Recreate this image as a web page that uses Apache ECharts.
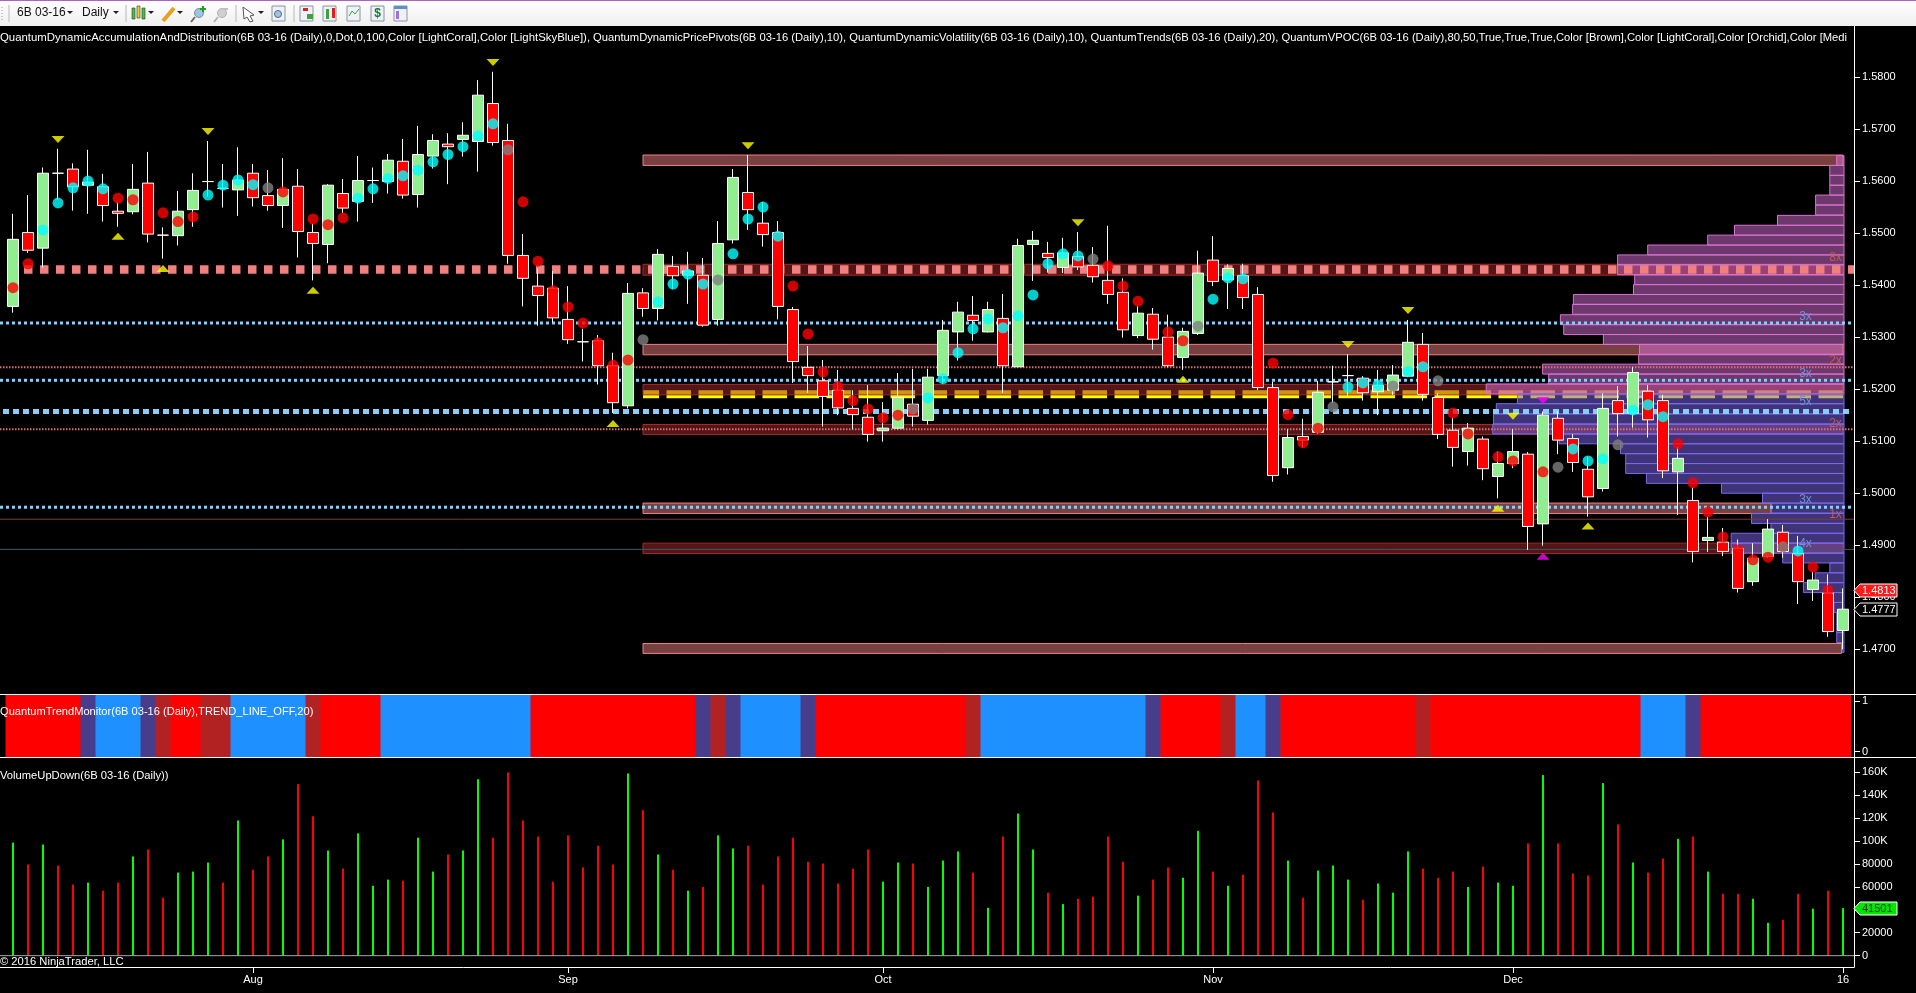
<!DOCTYPE html>
<html>
<head>
<meta charset="utf-8">
<title>6B 03-16 Daily</title>
<style>
  html, body { margin: 0; padding: 0; background: #000; }
  #chart { width: 1916px; height: 993px; }
</style>
<script src="https://cdn.jsdelivr.net/npm/echarts@6/dist/echarts.min.js"></script>
</head>
<body>
<div id="chart"></div>
<script>
// open, close, low, high per daily bar
const candles = [
  [1.5359,1.5488,1.5347,1.5537],[1.5501,1.5467,1.5462,1.5573],[1.5471,1.5615,1.5434,1.5626],[1.5615,1.5615,1.5564,1.5662],
  [1.5623,1.5589,1.5543,1.5634],[1.5592,1.5598,1.5537,1.5660],[1.5589,1.5553,1.5522,1.5614],[1.5542,1.5538,1.5512,1.5560],
  [1.5541,1.5584,1.5536,1.5633],[1.5596,1.5498,1.5482,1.5656],[1.5496,1.5496,1.5451,1.5511],[1.5495,1.5542,1.5476,1.5581],
  [1.5545,1.5582,1.5512,1.5615],[1.5599,1.5599,1.5570,1.5677],[1.5586,1.5586,1.5549,1.5633],[1.5583,1.5602,1.5533,1.5665],
  [1.5615,1.5568,1.5551,1.5633],[1.5572,1.5553,1.5543,1.5621],[1.5553,1.5584,1.5510,1.5644],[1.5590,1.5503,1.5453,1.5623],
  [1.5501,1.5480,1.5409,1.5518],[1.5478,1.5592,1.5442,1.5594],[1.5576,1.5548,1.5538,1.5604],[1.5561,1.5601,1.5522,1.5648],
  [1.5601,1.5601,1.5558,1.5626],[1.5599,1.5640,1.5576,1.5652],[1.5638,1.5573,1.5566,1.5681],[1.5574,1.5651,1.5549,1.5706],
  [1.5648,1.5678,1.5624,1.5690],[1.5671,1.5666,1.5594,1.5692],[1.5680,1.5688,1.5647,1.5713],[1.5676,1.5765,1.5618,1.5794],
  [1.5749,1.5674,1.5668,1.5810],[1.5678,1.5457,1.5441,1.5710],[1.5457,1.5413,1.5359,1.5498],[1.5398,1.5380,1.5322,1.5432],
  [1.5394,1.5337,1.5328,1.5427],[1.5334,1.5295,1.5287,1.5398],[1.5291,1.5291,1.5253,1.5316],[1.5293,1.5245,1.5209,1.5304],
  [1.5245,1.5174,1.5154,1.5270],[1.5168,1.5384,1.5163,1.5404],[1.5385,1.5355,1.5339,1.5394],[1.5355,1.5459,1.5332,1.5469],
  [1.5436,1.5418,1.5392,1.5456],[1.5419,1.5427,1.5364,1.5464],[1.5419,1.5323,1.5320,1.5452],[1.5334,1.5480,1.5322,1.5523],
  [1.5487,1.5607,1.5480,1.5623],[1.5578,1.5545,1.5506,1.5650],[1.5519,1.5497,1.5474,1.5560],[1.5501,1.5359,1.5334,1.5523],
  [1.5353,1.5253,1.5212,1.5358],[1.5242,1.5226,1.5193,1.5283],[1.5216,1.5186,1.5128,1.5256],[1.5198,1.5164,1.5150,1.5237],
  [1.5163,1.5151,1.5123,1.5198],[1.5146,1.5113,1.5099,1.5208],[1.5120,1.5125,1.5099,1.5175],[1.5125,1.5184,1.5123,1.5231],
  [1.5171,1.5148,1.5128,1.5239],[1.5140,1.5223,1.5132,1.5239],[1.5226,1.5313,1.5211,1.5333],[1.5310,1.5348,1.5255,1.5368],
  [1.5342,1.5332,1.5293,1.5379],[1.5310,1.5353,1.5309,1.5368],[1.5336,1.5245,1.5193,1.5383],[1.5243,1.5476,1.5242,1.5489],
  [1.5478,1.5486,1.5408,1.5504],[1.5461,1.5453,1.5424,1.5483],[1.5434,1.5462,1.5423,1.5491],[1.5455,1.5435,1.5429,1.5502],
  [1.5438,1.5416,1.5405,1.5473],[1.5409,1.5382,1.5364,1.5514],[1.5386,1.5314,1.5299,1.5413],[1.5303,1.5346,1.5298,1.5360],
  [1.5344,1.5296,1.5276,1.5356],[1.5300,1.5245,1.5242,1.5343],[1.5261,1.5311,1.5237,1.5318],[1.5307,1.5423,1.5304,1.5466],
  [1.5448,1.5407,1.5398,1.5494],[1.5410,1.5432,1.5354,1.5440],[1.5418,1.5376,1.5354,1.5441],[1.5382,1.5203,1.5198,1.5396],
  [1.5203,1.5034,1.5022,1.5214],[1.5049,1.5107,1.5036,1.5123],[1.5109,1.5102,1.5088,1.5143],[1.5117,1.5194,1.5114,1.5216],
  [1.5214,1.5214,1.5173,1.5245],[1.5226,1.5226,1.5184,1.5267],[1.5221,1.5193,1.5178,1.5225],[1.5195,1.5207,1.5150,1.5237],
  [1.5198,1.5227,1.5189,1.5246],[1.5225,1.5290,1.5223,1.5333],[1.5286,1.5190,1.5178,1.5308],[1.5184,1.5113,1.5104,1.5192],
  [1.5121,1.5088,1.5051,1.5145],[1.5080,1.5125,1.5053,1.5135],[1.5104,1.5047,1.5025,1.5109],[1.5032,1.5057,1.4990,1.5080],
  [1.5057,1.5080,1.5048,1.5123],[1.5075,1.4936,1.4891,1.5079],[1.4941,1.5150,1.4899,1.5157],[1.5144,1.5102,1.5075,1.5157],
  [1.5105,1.5059,1.5041,1.5114],[1.5046,1.4993,1.4955,1.5070],[1.5009,1.5163,1.5003,1.5192],[1.5178,1.5153,1.5109,1.5206],
  [1.5154,1.5232,1.5126,1.5242],[1.5196,1.5141,1.5107,1.5208],[1.5178,1.5043,1.5029,1.5189],[1.5041,1.5067,1.4958,1.5089],
  [1.4986,1.4888,1.4867,1.5011],[1.4909,1.4915,1.4887,1.4955],[1.4906,1.4888,1.4879,1.4933],[1.4894,1.4817,1.4809,1.4911],
  [1.4830,1.4875,1.4822,1.4904],[1.4878,1.4931,1.4875,1.4950],[1.4925,1.4888,1.4876,1.4939],[1.4884,1.4830,1.4787,1.4918],
  [1.4815,1.4833,1.4793,1.4849],[1.4808,1.4734,1.4724,1.4844],[1.4736,1.4777,1.4700,1.4817]
]

// pivot dots, one per bar where shown. r=red c=cyan g=grey
const dotPrices = [
  1.5395,1.5441,1.5506,1.5558,1.5587,1.5600,1.5585,1.5567,1.5564,null,1.5539,1.5522,1.5531,1.5573,1.5592,1.5602,
  1.5593,1.5587,1.5579,null,1.5527,1.5516,1.5529,1.5567,1.5585,1.5605,1.5610,1.5621,1.5637,1.5651,1.5666,1.5687,
  1.5710,1.5660,1.5560,1.5446,1.5389,1.5358,1.5327,1.5289,1.5246,1.5256,1.5295,1.5368,1.5402,1.5421,1.5402,1.5410,
  1.5460,1.5527,1.5550,1.5494,1.5398,1.5306,1.5233,1.5205,1.5178,1.5162,1.5145,1.5150,1.5162,1.5183,1.5220,1.5270,
  1.5316,1.5335,1.5318,1.5341,1.5381,1.5441,1.5460,1.5456,1.5450,1.5437,1.5398,1.5369,null,1.5310,1.5293,1.5321,
  1.5373,1.5414,1.5412,null,1.5250,1.5151,1.5097,1.5125,1.5166,1.5204,1.5212,1.5208,1.5206,1.5234,1.5243,1.5216,
  1.5154,1.5114,null,1.5070,1.5062,null,1.5041,1.5050,1.5085,1.5062,1.5066,1.5093,1.5160,1.5170,1.5147,1.5095,
  1.5020,1.4964,1.4916,1.4891,1.4872,1.4877,1.4897,1.4889,1.4858,1.4814,null
]
const dotKinds = ('rrcccccrr-' + 'rrrccccgr-' + 'rrrccccccc' + 'cccgrrrrrr' + 'rrgccccgcc' + 'ccrrrrrrrr' +
  'gccccccccc' + 'ccgrrr-rrg' + 'ccc-rrrrgc' + 'ccgccgrr-r' + 'r-rgcccgcc' + 'crrrrrrrgcrr-').split('')

// pivot triangles [bar, price]
const pivotDown = [[3,1.5680],[13,1.5695],[32,1.5828],[49,1.5668],[71,1.5520],[89,1.5286],[93,1.5351],[100,1.5148]]
const pivotUp = [[7,1.5494],[10,1.5432],[20,1.5390],[40,1.5134],[78,1.5219],[99,1.4971],[105,1.4937]]
const majorDown = [[102,1.5178]]
const majorUp = [[102,1.4879]]

// supply and demand zones [low, high, first bar, last bar]
const coralZones = [[1.5630,1.5650,42,122],[1.5266,1.5286,42,122],[1.4961,1.4981,42,117.2],[1.4692,1.4711,42,121.9]]
const brownZones = [[1.5419,1.5440,42,122],[1.5189,1.5209,42,122],[1.5113,1.5132,42,122],[1.4884,1.4904,42,122]]
const pocLevel = 1.5190

// accumulation and distribution levels
const coralBigLevels = [1.5430]
const skyLevels = [1.5327,1.5217,1.4973]
const skyBigLevels = [1.5157]
const coralThinLevels = [1.5242,1.5123]
const plainLevels = [[1.4950,'#7a3c3c'],[1.4892,'#3e5a68']]

// multiplier texts at the level ends [text, bar, price, coral?]
const multipliers = [
  ['8x',121.5,1.5453,1],['2x',121.5,1.5254,1],['3x',119.5,1.5340,0],['3x',119.5,1.5230,0],['5x',119.5,1.5175,0],
  ['2x',121.5,1.5134,1],['3x',119.5,1.4988,0],['1x',121.5,1.4958,1],['4x',119.5,1.4902,0]
]

// volume at price, top of each row
const vpocPrices = [
  1.5649,1.5630,1.5611,1.5592,1.5573,1.5554,1.5534,1.5515,1.5496,1.5477,1.5458,1.5439,1.5420,1.5401,1.5382,1.5363,1.5343,
  1.5324,1.5305,1.5286,1.5267,1.5248,1.5229,1.5210,1.5191,1.5172,1.5152,1.5133,1.5114,1.5095,1.5076,1.5057,1.5038,1.5019,
  1.5000,1.4981,1.4961,1.4942,1.4923,1.4904,1.4885,1.4866,1.4847,1.4828,1.4809,1.4790,1.4770,1.4751,1.4732,1.4713
]
const vpocVolumes = [
  7.3,14.2,14.2,14.2,28.4,28.4,66.5,109.5,136.3,196.3,226.4,226.4,209.3,210.5,270.6,271.4,283.6,
  280.3,240.6,204.5,205.3,301.4,295.3,357.8,326.6,347.7,350.5,351.3,284.8,223.5,218.3,218.3,197.6,122.5,
  81.5,72.6,92.5,73,112.8,112.8,61.3,14.2,28.8,40.6,20.3,10.1,7.3,7.3,7.3,2
]
const vpocRowSize = 0.00191
const vpocOrchidRows = 24

// trend monitor per bar. R=red B=dodger S=slate F=firebrick
const trendStates = 'RRRRRSBBBSFRRFFBBBBBFRRRRBBBBBBBBBBRRRRRRRRRRRSFSBBBBSRRRRRRRRRRFBBBBBBBBBBBSRRRRFBBSRRRRRRRRRFRRRRRRRRRRRRRRBBBSRRRRRRRRRR'.split('')

const volumes = [
  98600,79600,97000,78700,62000,63800,56700,63800,86600,92700,50600,72500,73400,81300,63800,118000,
  75000,86600,101500,149700,121700,91800,76000,106800,61000,66400,65500,103000,73400,88300,91800,154000,
  103000,160000,118000,104000,64600,105000,77000,96000,79600,159000,127000,88300,75000,56700,60000,105000,
  93600,96000,62000,86600,103000,82000,80400,63000,76000,92700,64600,81300,80400,60000,83000,91000,
  72500,41800,104000,124000,92700,55000,45000,49700,51500,104000,82000,52400,66400,77000,68000,109000,
  73400,61000,70800,153000,125000,83000,50600,74300,78700,66400,48800,63000,55000,91000,76000,68000,
  73400,60000,77800,63800,61000,98000,157600,98000,71700,70000,150600,114600,81300,72500,84800,102000,
  104000,73400,54000,54000,49700,28700,31300,54000,41000,56700,41501
]
const volumeDirs = ('grgrrgrrgr' + 'rgggrgrrgr' + 'rgrgggrggr' + 'ggrrrrrrrr' + 'rgrgrgrggr' + 'rrrrrrrrgg' + 'rggg' +
  'rgrggrgrrr' + 'rgrrggrgrr' + 'rgrgggrggg' + 'rrrgrggrgr' + 'rrgrgrrgrg' + 'rrggrrgrg').split('')

const priceTicks = [1.47,1.48,1.49,1.50,1.51,1.52,1.53,1.54,1.55,1.56,1.57,1.58]
const trendTicks = [0,1]
const volumeTicks = [0,20000,40000,60000,80000,100000,120000,140000,160000]
const monthTicks = [16,37,58,80,100,122]
const monthLabels = ['Aug','Sep','Oct','Nov','Dec','16']
const lastPrices = [[1.4813,'1.4813','#ff1a1a','#fff'],[1.4777,'1.4777','#000','#fff']]
const lastVolume = [[41501,'41501','#00e600','#003300']]

const titleFirst = 'QuantumDynamicAccumulationAndDistribution(6B 03-16 (Daily),0,Dot,0,100,Color [LightCoral],Color [LightSkyBlue]),'
const titleRest = 'QuantumDynamicPricePivots(6B 03-16 (Daily),10), QuantumDynamicVolatility(6B 03-16 (Daily),10), QuantumTrends(6B 03-16 (Daily),20), QuantumVPOC(6B 03-16 (Daily),80,50,True,True,True,Color [Brown],Color [LightCoral],Color [Orchid],Color [MediumSlateBlue])'

const FONT = '"Liberation Sans", Arial, sans-serif'
const AXIS_X = 1854
const xMin = -0.8667
const xMax = 122.733
const dotColors = {r:'#ff0000',c:'#00ffff',g:'#808080'}
const trendColors = {R:'#ff0000',B:'#1e90ff',S:'#483d8b',F:'#b22222'}

const chart = echarts.init(document.getElementById('chart'), null, {renderer:'canvas'})

//价位线
const levelLine = (price, from, to, style, z) => ({
  type:'line', xAxisIndex:0, yAxisIndex:0, z, silent:true, showSymbol:false, animation:false,
  data:[[from,price],[to,price]], lineStyle:style
})

//zones
const zoneSeries = (zones, fill, stroke, z) => ({
  type:'custom', xAxisIndex:0, yAxisIndex:0, z, silent:true, animation:false,
  data:zones, encode:{x:[2,3],y:[0,1]},
  renderItem:(params,api)=>{
    const a = api.coord([api.value(2),api.value(1)])
    const b = api.coord([api.value(3),api.value(0)])
    return {type:'rect',shape:{x:a[0],y:a[1],width:b[0]-a[0],height:b[1]-a[1]},style:{fill,stroke,lineWidth:1}}
  }
})

const pivotSeries = (data, color, rotate) => ({
  type:'scatter', xAxisIndex:0, yAxisIndex:0, z:7, silent:true, animation:false,
  symbol:'triangle', symbolSize:[13,7], symbolRotate:rotate, itemStyle:{color}, data
})

//最新值标签
const tagSeries = (data, xIdx, yIdx) => ({
  type:'custom', xAxisIndex:xIdx, yAxisIndex:yIdx, z:20, silent:true, clip:false, animation:false,
  data:data.map(d=>[0,d[0]]),
  renderItem:(params,api)=>{
    const y = Math.round(api.coord([0,api.value(1)])[1])+0.5
    const d = data[params.dataIndex]
    return {type:'group',children:[
      {type:'polygon',shape:{points:[[AXIS_X,y],[AXIS_X+6,y-6.5],[AXIS_X+43,y-6.5],[AXIS_X+43,y+6.5],[AXIS_X+6,y+6.5]]},style:{fill:d[2],stroke:'#fff',lineWidth:1}},
      {type:'text',x:AXIS_X+8,y:y,style:{text:d[1],fill:d[3],font:'11px '+FONT,verticalAlign:'middle'}}
    ]}
  }
})

const series = [
  //poc dashes
  levelLine(pocLevel,42,122,{color:'#ffff00',width:8,type:[24.5,7.5],dashOffset:8.5},1),
  zoneSeries(coralZones,'rgba(240,128,128,0.5)','#f08080',2),
  zoneSeries(brownZones,'rgba(165,42,42,0.5)','#a52a2a',2),
  {
    type:'custom', xAxisIndex:3, yAxisIndex:0, z:3, silent:true, animation:false,
    data:vpocPrices.map((p,i)=>[vpocVolumes[i],p]), encode:{x:0,y:1},
    renderItem:(params,api)=>{
      const a = api.coord([api.value(0),api.value(1)])
      const b = api.coord([0,api.value(1)-vpocRowSize])
      const orchid = params.dataIndex < vpocOrchidRows
      return {type:'rect',shape:{x:a[0],y:a[1],width:b[0]-a[0],height:b[1]-a[1]},
        style:{fill:orchid?'rgba(218,112,214,0.5)':'rgba(123,104,238,0.5)',stroke:orchid?'#da70d6':'#7b68ee',lineWidth:1}}
    }
  },
  ...plainLevels.map(l=>levelLine(l[0],xMin,xMax,{color:l[1],width:1},4)),
  ...coralBigLevels.map(p=>levelLine(p,0.733,xMax,{color:'#f08080',width:8.5,type:[8.5,7.5]},4)),
  ...skyLevels.map(p=>levelLine(p,xMin,xMax,{color:'#87cefa',width:3,type:[3,3]},4)),
  ...skyBigLevels.map(p=>levelLine(p,-0.667,122.4,{color:'#87cefa',width:5,type:[6,4]},4)),
  ...coralThinLevels.map(p=>levelLine(p,xMin,xMax,{color:'#d87070',width:2,type:[1.5,1.5]},4)),
  {
    type:'candlestick', xAxisIndex:0, yAxisIndex:0, z:5, silent:true, animation:false, barWidth:12,
    data:candles.map((c,i)=>[i,c[0],c[1],c[2],c[3]]),
    itemStyle:{color:'#90ee90',color0:'#ff0000',borderColor:'#fff',borderColor0:'#fff',borderColorDoji:'#fff',borderWidth:1}
  },
  {
    type:'scatter', xAxisIndex:0, yAxisIndex:0, z:6, silent:true, animation:false, symbolSize:11,
    data:dotPrices.map((p,i)=>p===null?null:{value:[i,p],itemStyle:{color:dotColors[dotKinds[i]]}}).filter(Boolean)
  },
  pivotSeries(pivotDown,'#ffff00',180),
  pivotSeries(pivotUp,'#ffff00',0),
  pivotSeries(majorDown,'#ff00ff',180),
  pivotSeries(majorUp,'#ff00ff',0),
  {
    type:'custom', xAxisIndex:0, yAxisIndex:0, z:8, silent:true, animation:false,
    data:multipliers.map(m=>[m[1],m[2]]), encode:{x:0,y:1},
    renderItem:(params,api)=>{
      const m = multipliers[params.dataIndex]
      const p = api.coord([api.value(0),api.value(1)])
      return {type:'text',x:p[0],y:p[1],style:{text:m[0],fill:m[3]?'#c05c5c':'#6f92d8',font:'12px '+FONT,align:'center',verticalAlign:'middle'}}
    }
  },
  tagSeries(lastPrices,0,0),
  //趋势监控
  {
    type:'custom', xAxisIndex:1, yAxisIndex:1, z:2, silent:true, animation:false,
    data:trendStates.map((s,i)=>[i,0]), encode:{x:0},
    renderItem:(params,api)=>{
      const i = api.value(0)
      const a = api.coord([i-0.5,0])
      const b = api.coord([i+0.5,0])
      const cs = params.coordSys
      return {type:'rect',shape:{x:a[0],y:cs.y+1,width:b[0]-a[0]+0.5,height:cs.height-1},style:{fill:trendColors[trendStates[i]]}}
    }
  },
  //成交量
  {
    type:'bar', xAxisIndex:2, yAxisIndex:2, z:3, silent:true, animation:false, barWidth:2,
    data:volumes.map((v,i)=>({value:[i,v],itemStyle:{color:volumeDirs[i]==='g'?'#00ff00':'#ff0000'}}))
  },
  {
    type:'line', xAxisIndex:2, yAxisIndex:2, z:4, silent:true, showSymbol:false, animation:false,
    data:[[xMin,0],[xMax,0]], lineStyle:{color:'#a8a8a8',width:1}
  },
  tagSeries(lastVolume,2,2)
]

//工具栏图标
const icon = (type,shape,style) => ({type,shape,style,z:50,silent:true})
const caret = (x) => icon('polygon',{points:[[x-3,11],[x+3,11],[x,14]]},{fill:'#222'})
const sep = (x) => icon('line',{x1:x,y1:5,x2:x,y2:22},{stroke:'#b8b8b8',lineWidth:1})
const page = (x) => [
  icon('rect',{x:x,y:6,width:13,height:15},{fill:'#eef2f6',stroke:'#8a94a0',lineWidth:1})
]
const toolbar = [
  {type:'rect',shape:{x:0,y:0,width:1916,height:26},style:{fill:new echarts.graphic.LinearGradient(0,0,0,1,[{offset:0,color:'#ffffff'},{offset:1,color:'#efefef'}])},z:49,silent:true},
  {type:'rect',shape:{x:0,y:0,width:1916,height:1},style:{fill:'#a864c0'},z:50,silent:true},
  icon('line',{x1:2,y1:7,x2:2,y2:20},{stroke:'#999',lineWidth:1,lineDash:[1,2]}),
  sep(9),sep(126),sep(236),sep(294),
  {type:'text',x:17,y:13,style:{text:'6B 03-16',fill:'#111',font:'12px '+FONT,verticalAlign:'middle'},z:50,silent:true},
  {type:'text',x:82,y:13,style:{text:'Daily',fill:'#111',font:'12px '+FONT,verticalAlign:'middle'},z:50,silent:true},
  caret(70),caret(116),caret(151),caret(180),caret(261),
  //candles
  icon('rect',{x:132,y:8,width:3,height:11},{fill:'#48c048',stroke:'#333',lineWidth:0.6}),
  icon('rect',{x:137,y:6,width:3,height:12},{fill:'#e8d020',stroke:'#333',lineWidth:0.6}),
  icon('rect',{x:142,y:8,width:3,height:11},{fill:'#48c048',stroke:'#333',lineWidth:0.6}),
  //pencil
  icon('line',{x1:163,y1:21,x2:174,y2:8},{stroke:'#e8a020',lineWidth:4}),
  //zoom in
  icon('circle',{cx:199,cy:13,r:4.5},{fill:'#9ac4e8',stroke:'#7c8c9c',lineWidth:1}),
  icon('line',{x1:195,y1:17,x2:191,y2:22},{stroke:'#666',lineWidth:2}),
  icon('line',{x1:200,y1:9,x2:206,y2:9},{stroke:'#20a020',lineWidth:2}),
  icon('line',{x1:203,y1:6,x2:203,y2:12},{stroke:'#20a020',lineWidth:2}),
  //zoom out
  icon('circle',{cx:222,cy:13,r:4.5},{fill:'#d0d0d0',stroke:'#b0b0b0',lineWidth:1}),
  icon('line',{x1:218,y1:17,x2:214,y2:22},{stroke:'#b0b0b0',lineWidth:2}),
  icon('line',{x1:222,y1:9,x2:228,y2:9},{stroke:'#c0c0c0',lineWidth:2}),
  //cursor
  icon('polygon',{points:[[243,7],[254,15],[250,16],[253,21],[250,22],[247,17],[244,19]]},{fill:'#fff',stroke:'#555',lineWidth:1}),
  ...page(272),
  icon('circle',{cx:278,cy:14,r:3.5},{fill:'#9ac4e8',stroke:'#667',lineWidth:1}),
  //charts
  ...page(300),
  icon('rect',{x:303,y:8,width:5,height:3},{fill:'#e02020'}),
  icon('rect',{x:307,y:14,width:6,height:5},{fill:'#40a040'}),
  ...page(323),
  icon('rect',{x:326,y:9,width:3,height:10},{fill:'#40a040'}),
  icon('rect',{x:332,y:8,width:3,height:10},{fill:'#e02020'}),
  ...page(347),
  icon('polyline',{points:[[349,16],[352,11],[355,14],[359,9]]},{stroke:'#40a040',fill:'none',lineWidth:1}),
  ...page(371),
  {type:'text',x:377.5,y:14,style:{text:'$',fill:'#108030',font:'bold 12px '+FONT,align:'center',verticalAlign:'middle'},z:51,silent:true},
  ...page(394),
  icon('rect',{x:394,y:6,width:13,height:3},{fill:'#6090c8'}),
  icon('rect',{x:396,y:11,width:3,height:8},{fill:'#a070e0'})
]

const panelText = (text,x,y,size,extra) => ({type:'text',x,y,z:30,silent:true,style:Object.assign({text,fill:'#fff',font:size+'px '+FONT,verticalAlign:'middle'},extra||{})})

const hiddenX = (gridIndex) => ({type:'value',gridIndex,min:xMin,max:xMax,show:false})
const rightAxis = (gridIndex,min,max,ticks,formatter) => ({
  type:'value',gridIndex,position:'right',min,max,
  splitLine:{show:false},
  axisLine:{show:true,onZero:false,lineStyle:{color:'#fff',width:1}},
  axisTick:{show:true,length:6,customValues:ticks,lineStyle:{color:'#fff'}},
  axisLabel:{show:true,customValues:ticks,color:'#fff',fontFamily:'Liberation Sans',fontSize:11,margin:8,formatter}
})

const option = {
  backgroundColor:'#000',
  animation:false,
  grid:[
    {left:0,right:62,top:26,height:668},
    {left:0,right:62,top:694,height:63},
    {left:0,right:62,top:757,height:210}
  ],
  xAxis:[
    hiddenX(0),
    hiddenX(1),
    {
      type:'value',gridIndex:2,min:xMin,max:xMax,position:'bottom',
      splitLine:{show:false},
      axisLine:{show:true,onZero:false,lineStyle:{color:'#fff',width:1}},
      axisTick:{show:true,length:6,customValues:monthTicks,lineStyle:{color:'#fff'}},
      axisLabel:{show:true,customValues:monthTicks,color:'#fff',fontFamily:'Liberation Sans',fontSize:11,margin:7,
        formatter:(v)=>monthLabels[monthTicks.indexOf(v)]}
    },
    {type:'value',gridIndex:0,inverse:true,min:-10,max:1844,show:false}
  ],
  yAxis:[
    rightAxis(0,1.4614,1.5898,priceTicks,(v)=>v.toFixed(4)),
    rightAxis(1,-0.106,1.134,trendTicks,(v)=>String(v)),
    rightAxis(2,-9900,173400,volumeTicks,(v)=>v>=100000?(v/1000)+'K':String(v))
  ],
  graphic:[
    ...toolbar,
    {type:'line',shape:{x1:0,y1:694.5,x2:1916,y2:694.5},style:{stroke:'#fff',lineWidth:1},z:30,silent:true},
    {type:'line',shape:{x1:0,y1:757.5,x2:1916,y2:757.5},style:{stroke:'#fff',lineWidth:1},z:30,silent:true},
    panelText(titleFirst,0,38,11.4),
    panelText(titleRest,593,38,11.22,{width:AXIS_X-594,overflow:'truncate',ellipsis:''}),
    panelText('QuantumTrendMonitor(6B 03-16 (Daily),TREND_LINE_OFF,20)',0,712,11.1),
    panelText('VolumeUpDown(6B 03-16 (Daily))',0,776,11.2),
    panelText('© 2016 NinjaTrader, LLC',0,962,11.2)
  ],
  series
}

chart.setOption(option)
</script>
</body>
</html>
